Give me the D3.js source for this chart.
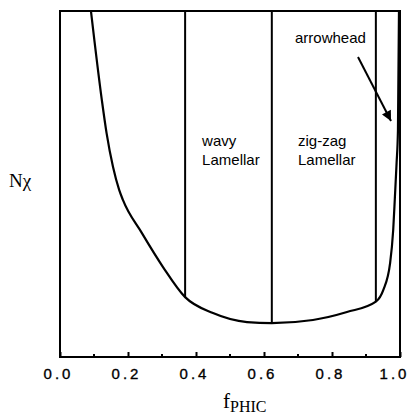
<!DOCTYPE html>
<html><head><meta charset="utf-8">
<script src="https://cdn.jsdelivr.net/npm/d3@7"></script>
<style>body{margin:0;background:#fff}svg{display:block}</style>
</head><body>
<script>
// ---- data ----
const curveF = [0.091,0.123,0.137,0.156,0.174,0.185,0.241,0.303,0.368,0.45,0.55,0.623,0.744,0.844,0.929,0.951,0.971,0.980,0.985,0.990,0.994,0.997];
const curveV = [100,74.3,64.7,54.9,48.3,45.4,35.8,26.0,17.3,12.7,10.1,9.8,10.7,13.0,16.0,19.4,27.2,36.7,46.2,56.1,65.6,100];
const boundaryF = [0.368,0.623,0.929];
const boundaryV = [17.3,9.8,16.0];
const majorTicks = [0,0.2,0.4,0.6,0.8,1.0];
const minorTicks = [0.1,0.3,0.5,0.7,0.9];
const phaseLabels = [["wavy","Lamellar"],["zig-zag","Lamellar"]];
const phaseLabelF = [0.418,0.700];

const W=414,H=414;
const svg=d3.select("body").append("svg").attr("width",W).attr("height",H);
const x=d3.scaleLinear().domain([0,1]).range([60,400]);
const y=d3.scaleLinear().domain([0,100]).range([357,11]);

// frame
svg.append("rect").attr("x",x(0)).attr("y",y(100)).attr("width",x(1)-x(0)).attr("height",y(0)-y(100))
  .attr("fill","none").attr("stroke","#000").attr("stroke-width",2);

// axis ticks (inward)
const ax=svg.append("g").attr("transform",`translate(0,${y(0)})`)
  .call(d3.axisBottom(x).tickValues(majorTicks).tickSize(-5).tickFormat(d3.format(".1f")).tickPadding(15));
ax.select(".domain").remove();
ax.selectAll(".tick line").attr("stroke","#000").attr("stroke-width",2);
ax.selectAll(".tick text").attr("font-family","'Liberation Sans',Arial,sans-serif").attr("font-size",15)
  .attr("letter-spacing","3px").attr("fill","#000").attr("stroke","#000").attr("stroke-width",0.35)
  .attr("dx",(d,i)=>i===majorTicks.length-1?"-6px":"-2px").attr("dy","0.45em");
svg.append("g").selectAll("line").data(minorTicks).join("line")
  .attr("x1",d=>x(d)).attr("x2",d=>x(d)).attr("y1",y(0)).attr("y2",y(0)-3)
  .attr("stroke","#000").attr("stroke-width",2);

// boundaries
svg.append("g").selectAll("line").data(boundaryF).join("line")
  .attr("x1",d=>x(d)).attr("x2",d=>x(d)).attr("y1",y(100)).attr("y2",(d,i)=>y(boundaryV[i]))
  .attr("stroke","#000").attr("stroke-width",2);

// spinodal curve
const pts=curveF.map((f,i)=>[f,curveV[i]]);
svg.append("path").datum(pts)
  .attr("d",d3.line().x(d=>x(d[0])).y(d=>y(d[1])).curve(d3.curveMonotoneX))
  .attr("fill","none").attr("stroke","#000").attr("stroke-width",2.2);

// phase labels
phaseLabels.forEach((lines,i)=>{
  const t=svg.append("text").attr("font-family","'Liberation Sans',Arial,sans-serif").attr("font-size",15).attr("fill","#000");
  lines.forEach((s,j)=>t.append("tspan").attr("x",x(phaseLabelF[i])).attr("y",146+j*19).text(s));
});
svg.append("text").attr("x",295).attr("y",43).attr("font-family","'Liberation Sans',Arial,sans-serif")
  .attr("font-size",15).attr("fill","#000").text("arrowhead");

// arrow
svg.append("defs").append("marker").attr("id","ah").attr("viewBox","0 0 10 10").attr("refX",10).attr("refY",5)
  .attr("markerWidth",6).attr("markerHeight",5).attr("orient","auto").attr("markerUnits","strokeWidth")
  .append("path").attr("d","M0,0L10,5L0,10z").attr("fill","#000");
svg.append("line").attr("x1",358).attr("y1",57).attr("x2",391).attr("y2",121)
  .attr("stroke","#000").attr("stroke-width",2).attr("marker-end","url(#ah)");

// axis titles
svg.append("text").attr("x",9).attr("y",187).attr("font-family","'Liberation Serif','Times New Roman',serif")
  .attr("font-size",19).attr("fill","#000").text("Nχ");
const xt=svg.append("text").attr("x",223).attr("y",408).attr("font-family","'Liberation Serif','Times New Roman',serif")
  .attr("font-size",21).attr("fill","#000");
xt.append("tspan").text("f");
xt.append("tspan").attr("font-size",16).attr("dy",4).text("PHIC");
</script>
</body></html>
